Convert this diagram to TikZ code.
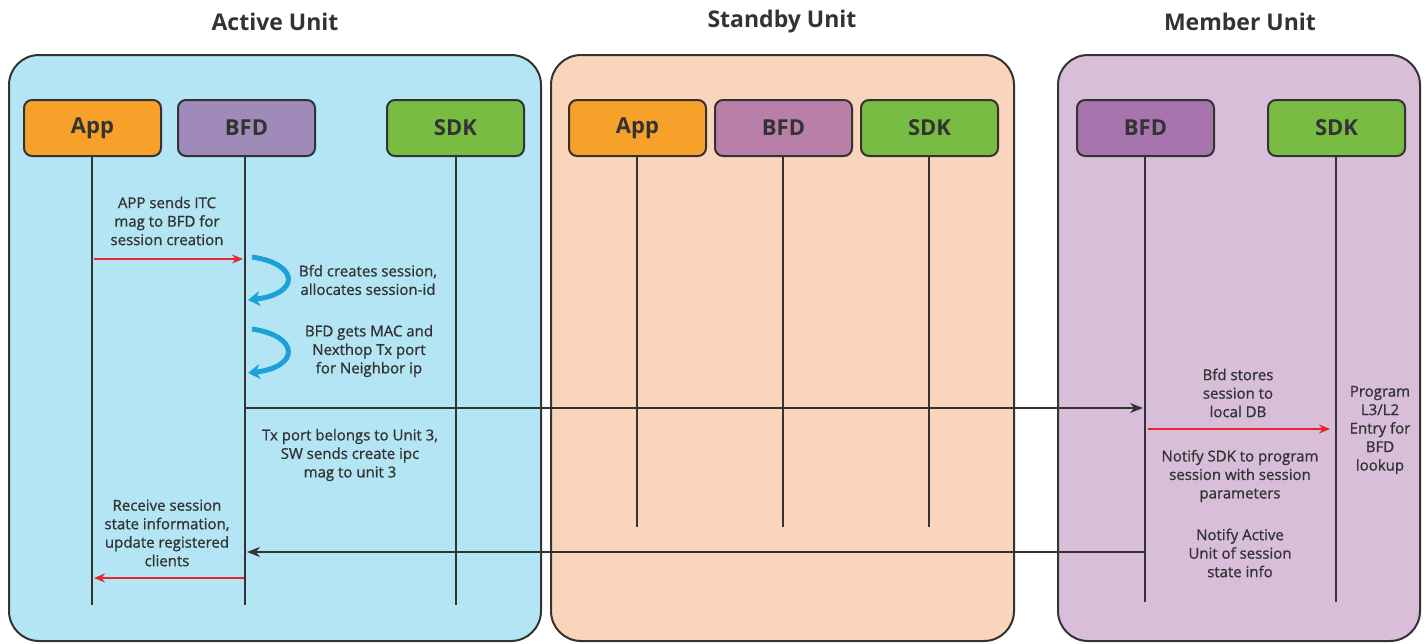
\documentclass[tikz,border=0pt]{standalone}
\usepackage{fontspec}
\setmainfont{Open Sans}
\newfontfamily\lblfont{Open Sans}[FakeBold=0.9]
\usetikzlibrary{arrows.meta}
\definecolor{actbg}{HTML}{B3E5F5}
\definecolor{stbbg}{HTML}{FAD5BC}
\definecolor{membg}{HTML}{D8BED9}
\definecolor{appc}{HTML}{F7A12A}
\definecolor{bfda}{HTML}{A08AB9}
\definecolor{bfds}{HTML}{B87FA8}
\definecolor{bfdm}{HTML}{A874AE}
\definecolor{sdkc}{HTML}{78BC43}
\definecolor{curvc}{HTML}{1BA0D8}
\definecolor{redc}{HTML}{E8262B}
\definecolor{inkc}{HTML}{333333}
\tikzset{
  panel/.style={draw=inkc, line width=2pt, rounded corners=30pt},
  unitbox/.style={draw=inkc, line width=2pt, rounded corners=8pt, minimum width=137pt, minimum height=56pt, inner sep=0pt, text=inkc, font=\fontsize{22}{26}\selectfont\bfseries},
  title/.style={font=\fontsize{23}{27}\selectfont\bfseries, text=inkc},
  lbl/.style={align=center, text=inkc, font=\lblfont\fontsize{15}{18.5}\selectfont, inner sep=0pt},
  lifeline/.style={draw=inkc, line width=2pt},
  msg/.style={draw=inkc, line width=1.6pt, -{Stealth[length=13pt,width=10pt]}},
  redmsg/.style={draw=redc, line width=2pt, -{Stealth[length=11pt,width=9pt]}},
  selfmsg/.style={draw=curvc, line width=5pt, -{Stealth[length=12pt,width=15pt]}}
}
\begin{document}
\begin{tikzpicture}[x=1pt,y=-1pt]
\useasboundingbox (0,0) rectangle (1427,643);
% titles
\node[title] (tA) at (275,22) {Active Unit};
\node[title] (tS) at (782,22) {Standby Unit};
\node[title] (tM) at (1240,22) {Member Unit};
% panels
\draw[panel, fill=actbg] (9,55) rectangle (541,641);
\draw[panel, fill=stbbg] (551,55) rectangle (1014,641);
\draw[panel, fill=membg] (1058,55) rectangle (1420,641);
% boxes
\node[unitbox, fill=appc] (aApp) at (92.5,128) {App};
\node[unitbox, fill=bfda] (aBFD) at (246.5,128) {BFD};
\node[unitbox, fill=sdkc] (aSDK) at (455.5,128) {SDK};
\node[unitbox, fill=appc] (sApp) at (637.5,128) {App};
\node[unitbox, fill=bfds] (sBFD) at (783.5,128) {BFD};
\node[unitbox, fill=sdkc] (sSDK) at (929.5,128) {SDK};
\node[unitbox, fill=bfdm] (mBFD) at (1145.5,128) {BFD};
\node[unitbox, fill=sdkc] (mSDK) at (1336.5,128) {SDK};
% lifeline ends
\coordinate (aAppE) at (92,605);
\coordinate (aBFDE) at (245,605);
\coordinate (aSDKE) at (456,605);
\coordinate (sAppE) at (637,527);
\coordinate (sBFDE) at (783,527);
\coordinate (sSDKE) at (929,527);
\coordinate (mBFDE) at (1145,602);
\coordinate (mSDKE) at (1336,602);
\draw[lifeline] (aApp.south -| aAppE) -- (aAppE);
\draw[lifeline] (aBFD.south -| aBFDE) -- (aBFDE);
\draw[lifeline] (aSDK.south -| aSDKE) -- (aSDKE);
\draw[lifeline] (sApp.south -| sAppE) -- (sAppE);
\draw[lifeline] (sBFD.south -| sBFDE) -- (sBFDE);
\draw[lifeline] (sSDK.south -| sSDKE) -- (sSDKE);
\draw[lifeline] (mBFD.south -| mBFDE) -- (mBFDE);
\draw[lifeline] (mSDK.south -| mSDKE) -- (mSDKE);
% message points
\coordinate (m1s) at (94,259);
\coordinate (m1e) at (243,259);
\coordinate (c1s) at (252,257);
\coordinate (c1e) at (248,300);
\coordinate (c2s) at (252,329);
\coordinate (c2e) at (248,373);
\coordinate (m2s) at (245,408);
\coordinate (m2e) at (1143,408);
\coordinate (m3s) at (1148,429);
\coordinate (m3e) at (1330,429);
\coordinate (m4s) at (1145,552);
\coordinate (m4e) at (247,552);
\coordinate (m5s) at (244,578);
\coordinate (m5e) at (94,578);
% messages
\draw[redmsg] (m1s) -- (m1e);
\draw[selfmsg] (c1s) .. controls (300,264) and (300,294) .. (c1e);
\draw[selfmsg] (c2s) .. controls (300,336) and (300,367) .. (c2e);
\draw[msg] (m2s) -- (m2e);
\draw[redmsg] (m3s) -- (m3e);
\draw[msg] (m4s) -- (m4e);
\draw[redmsg] (m5s) -- (m5e);
% labels
\node[lbl] (l1) at (167,221) {APP sends ITC\\mag to BFD for\\session creation};
\node[lbl] (l2) at (368,280) {Bfd creates session,\\allocates session-id};
\node[lbl] (l3) at (369,351) {BFD gets MAC and\\Nexthop Tx port\\for Neighbor ip};
\node[lbl] (l4) at (350,455) {Tx port belongs to Unit 3,\\SW sends create ipc\\mag to unit 3};
\node[lbl] (l5) at (167,533) {Receive session\\state information,\\update registered\\clients};
\node[lbl] (l6) at (1238,393) {Bfd stores\\session to\\local DB};
\node[lbl] (l7) at (1240,476) {Notify SDK to program\\session with session\\parameters};
\node[lbl] (l8) at (1240,553) {Notify Active\\Unit of session\\state info};
\node[lbl] (l9) at (1380,430) {Program\\L3/L2\\Entry for\\BFD\\lookup};
\end{tikzpicture}
\end{document}
